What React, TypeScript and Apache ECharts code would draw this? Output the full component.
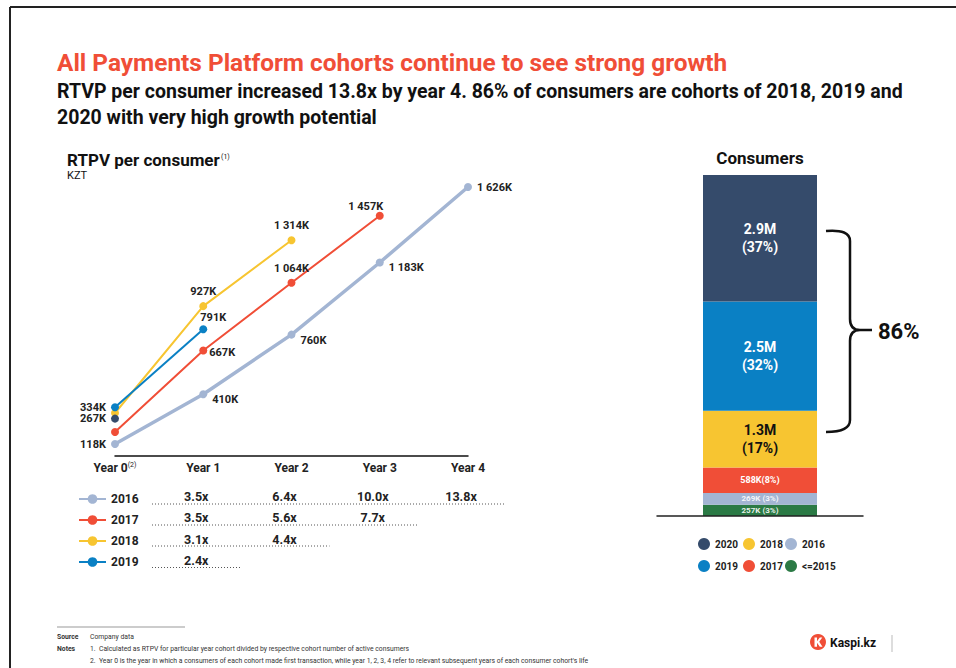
import React, { useEffect, useRef } from "react";
import * as echarts from "echarts";

// ---------- data ----------
const years = ["Year 0", "Year 1", "Year 2", "Year 3", "Year 4"];
const cohorts = ["2016", "2017", "2018", "2019"];
const rtpv2016 = [118, 410, 760, 1183, 1626];
const rtpv2017 = [188, 667, 1064, 1457];
const rtpv2018 = [300, 927, 1314];
const rtpv2019 = [334, 791];
const rtpv2020 = [267];
const mult2016 = ["3.5x", "6.4x", "10.0x", "13.8x"];
const mult2017 = ["3.5x", "5.6x", "7.7x"];
const mult2018 = ["3.1x", "4.4x"];
const mult2019 = ["2.4x"];

const consumerCohorts = ["<=2015", "2016", "2017", "2018", "2019", "2020"];
const consumerValues = [0.257, 0.269, 0.588, 1.3, 2.5, 2.9]; // millions
const consumerLabels = ["257K (3%)", "269K (3%)", "588K(8%)", "1.3M\n(17%)", "2.5M\n(32%)", "2.9M\n(37%)"];
const legendOrder = ["2020", "2018", "2016", "2019", "2017", "<=2015"];
const bracketShare = "86%";

// ---------- styles ----------
const FONT = "Roboto";
const C: Record<string, string> = {
  "2016": "#A3B5D3",
  "2017": "#F04E37",
  "2018": "#F7C531",
  "2019": "#0A80C4",
  "2020": "#354B6B",
  "<=2015": "#2B7A45",
};
const lineWidths: Record<string, number> = { "2016": 3.5, "2017": 2, "2018": 2, "2019": 2, "2020": 2 };

type LP = [string, number, number] | null;
const labelPos: Record<string, LP[]> = {
  "2016": [["left", 0, 0], ["right", 0, 5], ["right", 0, 6], ["right", 0, 5], ["right", 0, 0]],
  "2017": [null, ["right", -3, 2], ["top", 0, 0], ["top", -14, 5]],
  "2018": [null, ["top", 0, 0], ["top", 0, 0]],
  "2019": [["left", 0, 0], ["top", 10, 3]],
  "2020": [["left", 0, 0]],
};
const barLabelStyle = [
  { fontSize: 8, color: "rgba(255,255,255,0.9)" },
  { fontSize: 8, color: "rgba(255,255,255,0.9)" },
  { fontSize: 9, color: "#fff" },
  { fontSize: 14, color: "#111", lineHeight: 18 },
  { fontSize: 14, color: "#fff", lineHeight: 18 },
  { fontSize: 14, color: "#fff", lineHeight: 18 },
];

function fmtK(v: number): string {
  if (v >= 1000) {
    const th = Math.floor(v / 1000);
    const rest = String(v % 1000).padStart(3, "0");
    return th + " " + rest + "K";
  }
  return v + "K";
}

echarts.graphic.registerShape(
  "bracket",
  echarts.graphic.extendPath(
    "M0,2 Q24,0 24,12 L24,90 Q24,101 34,101 L46,101 M34,101 Q24,101 24,112 L24,191 Q24,203 0,203",
    {}
  )
);
echarts.graphic.registerShape(
  "kaspiMark",
  echarts.graphic.extendPath(
    "M4.5,3.5 L7,3.5 L7,7.2 L9.8,3.5 L12.3,3.5 L9.2,7.8 L12.5,12.8 L9.8,12.8 L7,8.8 L7,12.8 L4.5,12.8 Z",
    {}
  )
);

export default function App() {
  const ref = useRef<HTMLDivElement>(null);

  useEffect(() => {
    if (!ref.current) return;
    const chart = echarts.init(ref.current, null, { renderer: "svg" });

    const lineData: Record<string, number[]> = {
      "2016": rtpv2016,
      "2017": rtpv2017,
      "2018": rtpv2018,
      "2019": rtpv2019,
      "2020": rtpv2020,
    };

    const lineSeries = Object.keys(lineData).map((name) => ({
      name,
      type: "line",
      xAxisIndex: 0,
      yAxisIndex: 0,
      symbol: "circle",
      symbolSize: 8,
      color: C[name],
      lineStyle: { width: lineWidths[name], color: C[name] },
      itemStyle: { color: C[name] },
      z: 3,
      data: lineData[name].map((v, i) => {
        const lp = labelPos[name][i];
        return {
          value: v,
          label: lp
            ? {
                show: true,
                position: lp[0],
                offset: [lp[1], lp[2]],
                formatter: () => fmtK(v),
                fontFamily: FONT,
                fontWeight: "bold",
                fontSize: 11,
                color: "#222",
              }
            : { show: false },
        };
      }),
    }));

    const barSeries = consumerCohorts.map((name, i) => ({
      name: "bar-" + name,
      type: "bar",
      xAxisIndex: 1,
      yAxisIndex: 1,
      stack: "consumers",
      barWidth: 114,
      itemStyle: { color: C[name] },
      label: {
        show: true,
        position: "inside",
        formatter: consumerLabels[i],
        fontFamily: FONT,
        fontWeight: "bold",
        ...barLabelStyle[i],
      },
      data: [consumerValues[i]],
    }));

    const total = consumerValues.reduce((a, b) => a + b, 0);

    const baseText = (text: string, x: number, y: number, extra: any = {}) => ({
      type: "text",
      x,
      y,
      style: {
        text,
        fontFamily: FONT,
        fill: "#111",
        textVerticalAlign: "middle",
        ...extra,
      },
    });

    chart.setOption({
      animation: false,
      backgroundColor: "#fff",
      textStyle: { fontFamily: FONT },
      grid: [
        { left: 115, right: 488, top: 174.4, height: 281.2 },
        { left: 657, width: 206, top: 175, height: 341 },
      ],
      xAxis: [
        {
          type: "category",
          gridIndex: 0,
          data: years,
          boundaryGap: false,
          axisLine: { lineStyle: { color: "#111", width: 1.5 } },
          axisTick: { show: false },
          axisLabel: {
            interval: 0,
            margin: 6,
            formatter: (v: string) => (v === "Year 0" ? "{b|Year 0}{s|(2)}" : "{b|" + v + "}"),
            rich: {
              b: { fontFamily: FONT, fontWeight: "bold", fontSize: 12, color: "#222" },
              s: { fontFamily: FONT, fontSize: 7, color: "#222", verticalAlign: "top", padding: [0, 0, 5, 0] },
            },
          },
        },
        {
          type: "category",
          gridIndex: 1,
          data: ["Consumers"],
          axisLine: { lineStyle: { color: "#222", width: 1.5 } },
          axisTick: { show: false },
          axisLabel: { show: false },
          z: 5,
        },
      ],
      yAxis: [
        { type: "value", gridIndex: 0, min: 50, max: 1700, show: false, splitLine: { show: false } },
        { type: "value", gridIndex: 1, min: 0, max: total, show: false, splitLine: { show: false } },
      ],
      legend: {
        data: cohorts,
        orient: "vertical",
        left: 73,
        top: 488,
        itemWidth: 27,
        itemHeight: 12,
        itemGap: 9,
        textStyle: { fontFamily: FONT, fontWeight: "bold", fontSize: 12, color: "#222" },
      },
      series: [...lineSeries, ...barSeries],
    });

    // positions of categories via the axis scale
    const px = (i: number) => chart.convertToPixel({ xAxisIndex: 0 }, years[i]) as unknown as number;
    const mults = [mult2016, mult2017, mult2018, mult2019];
    const rowTextY = [496, 517.5, 539, 560];
    const rowLineY = [504, 525, 546, 567.5];

    const graphics: any[] = [];
    // frame
    graphics.push({ type: "line", shape: { x1: 10, y1: 7, x2: 956, y2: 7 }, style: { stroke: "#222", lineWidth: 2 } });
    graphics.push({ type: "line", shape: { x1: 10, y1: 7, x2: 10, y2: 668 }, style: { stroke: "#222", lineWidth: 2 } });
    // titles
    graphics.push(baseText("All Payments Platform cohorts continue to see strong growth", 57, 62, { fill: "#F04E37", fontWeight: "bold", fontSize: 24.4 }));
    graphics.push(baseText("RTVP per consumer increased 13.8x by year 4. 86% of consumers are cohorts of 2018, 2019 and", 57, 91, { fontWeight: "bold", fontSize: 19.5 }));
    graphics.push(baseText("2020 with very high growth potential", 57, 117, { fontWeight: "bold", fontSize: 19.5 }));
    graphics.push(baseText("RTPV per consumer", 67, 160, { fontWeight: "bold", fontSize: 17, lineHeight: 14 }));
    graphics.push(baseText("(1)", 221, 157, { fontSize: 7, lineHeight: 8 }));
    graphics.push(baseText("KZT", 67, 175, { fontSize: 11, lineHeight: 10 }));
    graphics.push(baseText("Consumers", 760, 158, { fontWeight: "bold", fontSize: 17, textAlign: "center" }));

    // multipliers table
    mults.forEach((row, r) => {
      row.forEach((m, j) => {
        graphics.push(baseText(m, px(j + 1) - 7, rowTextY[r], { fontWeight: "bold", fontSize: 12.5, textAlign: "center", fill: "#222" }));
      });
      graphics.push({
        type: "line",
        shape: { x1: 152, y1: rowLineY[r], x2: px(row.length) + 38, y2: rowLineY[r] },
        style: { stroke: "#555", lineWidth: 1, lineDash: [1, 2] },
      });
    });

    // bracket
    graphics.push({ type: "bracket", x: 826, y: 229, style: { stroke: "#111", lineWidth: 2.5, fill: "none" } });
    graphics.push(baseText(bracketShare, 878, 331, { fontWeight: "bold", fontSize: 22 }));

    // right legend
    const colX = [704, 749, 791];
    const rowY = [544, 566];
    legendOrder.forEach((name, k) => {
      const x = colX[k % 3];
      const y = rowY[Math.floor(k / 3)];
      graphics.push({ type: "circle", shape: { cx: x, cy: y, r: 6 }, style: { fill: C[name] } });
      graphics.push(baseText(name, x + 11, y, { fontWeight: "bold", fontSize: 10, fill: "#222" }));
    });

    // footnotes
    graphics.push({ type: "line", shape: { x1: 57, y1: 627, x2: 185, y2: 627 }, style: { stroke: "#999", lineWidth: 1 } });
    graphics.push(baseText("Source", 57, 637, { fontWeight: "bold", fontSize: 6.8, fill: "#333" }));
    graphics.push(baseText("Company data", 90, 637, { fontSize: 6.8, fill: "#333" }));
    graphics.push(baseText("Notes", 57, 649, { fontWeight: "bold", fontSize: 6.8, fill: "#333" }));
    graphics.push(baseText("1.  Calculated as RTPV for particular year cohort divided by respective cohort number of active consumers", 90, 649, { fontSize: 6.8, fill: "#333" }));
    graphics.push(baseText("2.  Year 0 is the year in which a consumers of each cohort made first transaction, while year 1, 2, 3, 4 refer to relevant subsequent years of each consumer cohort's life", 90, 661, { fontSize: 6.8, fill: "#333" }));

    // logo
    graphics.push({ type: "circle", shape: { cx: 818, cy: 642, r: 8 }, style: { fill: "#F04E37" } });
    graphics.push({ type: "kaspiMark", x: 810, y: 634, style: { fill: "#fff" } });
    graphics.push(baseText("Kaspi.kz", 830, 643, { fontWeight: "bold", fontSize: 12 }));
    graphics.push({ type: "line", shape: { x1: 892, y1: 635, x2: 892, y2: 652 }, style: { stroke: "#bbb", lineWidth: 1 } });

    chart.setOption({ graphic: graphics });

    return () => chart.dispose();
  }, []);

  return (
    <div
      ref={ref}
      style={{ position: "fixed", left: 0, top: 0, width: 956, height: 668, background: "#fff" }}
    />
  );
}
